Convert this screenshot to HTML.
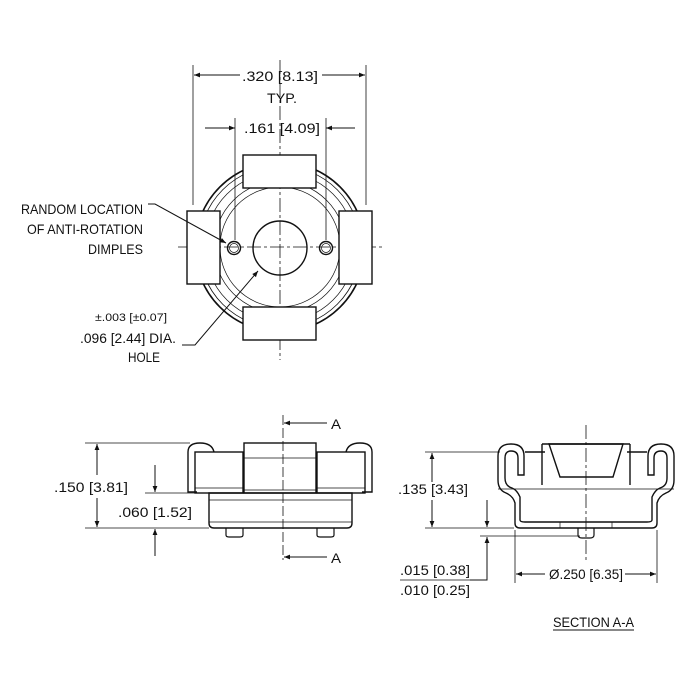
<!DOCTYPE html>
<html><head><meta charset="utf-8"><style>
html,body{margin:0;padding:0;background:#fff;}
svg{display:block;}
text{font-family:"Liberation Sans",sans-serif;font-size:14px;fill:#111;}
</style></head><body>
<svg width="700" height="700" viewBox="0 0 700 700" xmlns="http://www.w3.org/2000/svg">
<defs>
<marker id="ar" viewBox="0 0 10 10" refX="10" refY="5" markerWidth="10" markerHeight="6" orient="auto-start-reverse" markerUnits="userSpaceOnUse"><path d="M0,1 L10,5 L0,9 z" fill="#111"/></marker>
</defs>
<g fill="none" stroke="#111" stroke-width="1">
<!-- TOP VIEW -->
<line x1="280" y1="60" x2="280" y2="360" stroke-dasharray="14,3,3,3" stroke-width="0.8"/>
<line x1="178" y1="247" x2="385" y2="247" stroke-dasharray="14,3,3,3" stroke-width="0.8"/>
<circle cx="280" cy="247" r="75" stroke-width="0.7"/>
<circle cx="280" cy="247" r="66" stroke-width="0.7"/>
<circle cx="280" cy="247" r="60" stroke-width="0.7"/>
<circle cx="280" cy="247" r="85" stroke-width="1.6"/>
<circle cx="280" cy="247" r="81" stroke-width="0.8"/>
<!-- white gaps for tabs -->
<g fill="#fff" stroke="#111" stroke-width="1.4">
<rect x="243" y="155" width="73" height="33"/>
<rect x="243" y="307" width="73" height="33"/>
<rect x="187" y="211" width="33" height="73"/>
<rect x="339" y="211" width="33" height="73"/>
</g>
<circle cx="280" cy="248" r="27" stroke-width="1.4"/>
<circle cx="234" cy="248" r="6.5" stroke-width="1.4"/>
<circle cx="234" cy="248" r="4.5" stroke-width="0.7"/>
<circle cx="326" cy="248" r="6.5" stroke-width="1.4"/>
<circle cx="326" cy="248" r="4.5" stroke-width="0.7"/>
<!-- dims top -->
<line x1="193" y1="65" x2="193" y2="205" stroke-width="0.8"/>
<line x1="366" y1="65" x2="366" y2="205" stroke-width="0.8"/>
<line x1="194" y1="75" x2="240" y2="75" marker-start="url(#ar)"/>
<line x1="322" y1="75" x2="365" y2="75" marker-end="url(#ar)"/>
<line x1="235" y1="118" x2="235" y2="240" stroke-width="0.8"/>
<line x1="326" y1="118" x2="326" y2="240" stroke-width="0.8"/>
<line x1="205" y1="128" x2="235" y2="128" marker-end="url(#ar)"/>
<line x1="355" y1="128" x2="326" y2="128" marker-end="url(#ar)"/>
<!-- leaders -->
<polyline points="148,204 155,204 226,243" marker-end="url(#ar)"/>
<polyline points="182,345 195,345 258,271" marker-end="url(#ar)"/>

<!-- SIDE VIEW -->
<line x1="283" y1="415" x2="283" y2="560" stroke-dasharray="10,3" stroke-width="0.8"/>
<line x1="327" y1="423" x2="284" y2="423" marker-end="url(#ar)"/>
<line x1="327" y1="557" x2="284" y2="557" marker-end="url(#ar)"/>
<rect x="244" y="443" width="72" height="50" stroke-width="1.4"/>
<line x1="244" y1="458" x2="316" y2="458" stroke-width="0.7"/>
<line x1="244" y1="490" x2="316" y2="490" stroke-width="0.7"/>
<rect x="195" y="452" width="48" height="41" stroke-width="1.4"/>
<rect x="317" y="452" width="48" height="41" stroke-width="1.4"/>
<line x1="195" y1="488" x2="243" y2="488" stroke-width="0.7"/>
<line x1="317" y1="488" x2="365" y2="488" stroke-width="0.7"/>
<path d="M197,492 L188,492 L188,452 Q188,443 200,443 Q212,443 214,452" stroke-width="1.4"/>
<path d="M362,492 L372,492 L372,452 Q372,443 360,443 Q348,443 346,452" stroke-width="1.4"/>
<path d="M209,493 L209,523 Q209,528 214,528 L347,528 Q352,528 352,523 L352,493 Z" stroke-width="1.4"/>
<line x1="209" y1="500" x2="352" y2="500" stroke-width="0.7"/>
<line x1="209" y1="522" x2="352" y2="522" stroke-width="0.7"/>
<path d="M226,528 L226,535 Q226,537 229,537 L240,537 Q243,537 243,535 L243,528" stroke-width="1.2"/>
<path d="M317,528 L317,535 Q317,537 320,537 L331,537 Q334,537 334,535 L334,528" stroke-width="1.2"/>
<!-- side dims -->
<line x1="85" y1="443" x2="190" y2="443" stroke-width="0.8"/>
<line x1="145" y1="493" x2="207" y2="493" stroke-width="0.8"/>
<line x1="85" y1="528" x2="209" y2="528" stroke-width="0.8"/>
<line x1="97" y1="475" x2="97" y2="444" marker-end="url(#ar)"/>
<line x1="97" y1="498" x2="97" y2="527" marker-end="url(#ar)"/>
<line x1="155" y1="465" x2="155" y2="492" marker-end="url(#ar)"/>
<line x1="155" y1="556" x2="155" y2="529" marker-end="url(#ar)"/>

<!-- SECTION -->
<line x1="586" y1="425" x2="586" y2="560" stroke-dasharray="14,3,3,3" stroke-width="0.8"/>
<path d="M549,444 L623,444 L613,477 L560,477 Z" stroke-width="1.4"/>
<line x1="542" y1="444" x2="630" y2="444" stroke-width="1.4"/>
<polyline points="542,444 542,485" stroke-width="1.4"/>
<polyline points="630,444 630,485" stroke-width="1.4"/>
<polyline points="525,452 545,452" stroke-width="1.4"/>
<polyline points="627,452 647,452" stroke-width="1.4"/>
<line x1="498" y1="489" x2="674" y2="489" stroke-width="0.7"/>
<path d="M518,475 L518,458 Q518,451 511,451 Q505,451 505,458 L505,478 Q505,486 512,488 Q517,490 520,497 L520,520 Q520,522 525,522 L647,522 Q652,522 652,520 L652,497 Q655,490 660,488 Q667,486 667,478 L667,458 Q667,451 661,451 Q654,451 654,458 L654,475 L648,475 L648,456 Q648,444 661,444 Q674,444 674,456 L674,480 Q674,490 666,493 Q659,496 657,503 L657,523 Q657,528 652,528 L520,528 Q515,528 515,523 L515,503 Q513,496 506,493 Q498,490 498,480 L498,456 Q498,444 511,444 Q524,444 524,456 L524,475 Z" stroke-width="1.4"/>
<line x1="560" y1="522" x2="560" y2="528" stroke-width="0.7"/>
<line x1="612" y1="522" x2="612" y2="528" stroke-width="0.7"/>
<path d="M578,528 L578,535 Q578,538 582,538 L590,538 Q594,538 594,535 L594,528" stroke-width="1.2"/>
<!-- section dims -->
<line x1="425" y1="452" x2="500" y2="452" stroke-width="0.8"/>
<line x1="425" y1="528" x2="514" y2="528" stroke-width="0.8"/>
<line x1="480" y1="536" x2="580" y2="536" stroke-width="0.8"/>
<line x1="432" y1="482" x2="432" y2="453" marker-end="url(#ar)"/>
<line x1="432" y1="500" x2="432" y2="527" marker-end="url(#ar)"/>
<line x1="487" y1="500" x2="487" y2="527" marker-end="url(#ar)"/>
<polyline points="470,580 487,580 487,537" marker-end="url(#ar)"/>
<line x1="400" y1="580" x2="470" y2="580" stroke-width="0.8"/>
<line x1="515" y1="530" x2="515" y2="583" stroke-width="0.8"/>
<line x1="657" y1="530" x2="657" y2="583" stroke-width="0.8"/>
<line x1="545" y1="574" x2="516" y2="574" marker-end="url(#ar)"/>
<line x1="625" y1="574" x2="656" y2="574" marker-end="url(#ar)"/>
<line x1="553" y1="630" x2="634" y2="630" stroke-width="1"/>
</g>
<g>
<text x="280" y="81" text-anchor="middle" textLength="76" lengthAdjust="spacingAndGlyphs">.320 [8.13]</text>
<text x="282" y="103" text-anchor="middle" textLength="30" lengthAdjust="spacingAndGlyphs">TYP.</text>
<text x="282" y="133" text-anchor="middle" textLength="76" lengthAdjust="spacingAndGlyphs">.161 [4.09]</text>
<text x="143" y="214" text-anchor="end" textLength="122" lengthAdjust="spacingAndGlyphs">RANDOM LOCATION</text>
<text x="143" y="234" text-anchor="end" textLength="116" lengthAdjust="spacingAndGlyphs">OF ANTI-ROTATION</text>
<text x="143" y="254" text-anchor="end" textLength="55" lengthAdjust="spacingAndGlyphs">DIMPLES</text>
<text x="167" y="321" text-anchor="end" style="font-size:11px" textLength="72" lengthAdjust="spacingAndGlyphs">±.003 [±0.07]</text>
<text x="176" y="343" text-anchor="end" textLength="96" lengthAdjust="spacingAndGlyphs">.096 [2.44] DIA.</text>
<text x="144" y="362" text-anchor="middle" textLength="32" lengthAdjust="spacingAndGlyphs">HOLE</text>
<text x="331" y="429" textLength="10" lengthAdjust="spacingAndGlyphs">A</text>
<text x="331" y="563" textLength="10" lengthAdjust="spacingAndGlyphs">A</text>
<text x="54" y="492" textLength="74" lengthAdjust="spacingAndGlyphs">.150 [3.81]</text>
<text x="118" y="517" textLength="74" lengthAdjust="spacingAndGlyphs">.060 [1.52]</text>
<text x="398" y="494" textLength="70" lengthAdjust="spacingAndGlyphs">.135 [3.43]</text>
<text x="400" y="575" textLength="70" lengthAdjust="spacingAndGlyphs">.015 [0.38]</text>
<text x="400" y="595" textLength="70" lengthAdjust="spacingAndGlyphs">.010 [0.25]</text>
<text x="549" y="579" textLength="74" lengthAdjust="spacingAndGlyphs">Ø.250 [6.35]</text>
<text x="553" y="627" textLength="81" lengthAdjust="spacingAndGlyphs">SECTION A-A</text>
</g>
</svg>
</body></html>
